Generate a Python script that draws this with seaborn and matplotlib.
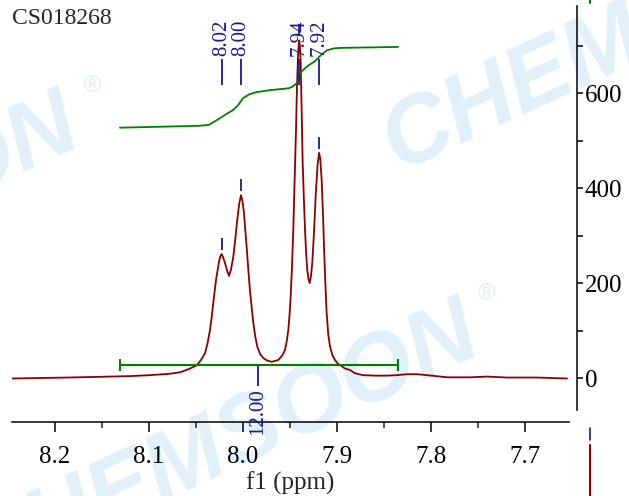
import matplotlib
matplotlib.use("Agg")
import numpy as np
import pandas as pd
import matplotlib.pyplot as plt
from matplotlib.lines import Line2D
from matplotlib.ticker import FixedLocator, MultipleLocator, FormatStrFormatter
import seaborn as sns

# spectrum (ppm, intensity)
ppm = [8.2457, 8.2160, 8.1872, 8.1628, 8.1415, 8.1202, 8.0989, 8.0777, 8.0670,
       8.0574, 8.0489, 8.0447, 8.0404, 8.0378, 8.0351, 8.0333, 8.0316, 8.0301,
       8.0287, 8.0269, 8.0252, 8.0239, 8.0227, 8.0213, 8.0191, 8.0170, 8.0149,
       8.0128, 8.0103, 8.0082, 8.0061, 8.0039, 8.0021, 8.0005, 7.9989, 7.9976,
       7.9961, 7.9944, 7.9926, 7.9907, 7.9890, 7.9869, 7.9848, 7.9819, 7.9784,
       7.9745, 7.9695, 7.9624, 7.9606, 7.9580, 7.9553, 7.9534, 7.9518, 7.9505,
       7.9493, 7.9479, 7.9465, 7.9450, 7.9436, 7.9426, 7.9415, 7.9404, 7.9395,
       7.9386, 7.9376, 7.9365, 7.9351, 7.9340, 7.9328, 7.9316, 7.9303, 7.9290,
       7.9277, 7.9263, 7.9245, 7.9227, 7.9207, 7.9191, 7.9178, 7.9163, 7.9149,
       7.9138, 7.9124, 7.9110, 7.9093, 7.9074, 7.9048, 7.9021, 7.8989, 7.8950,
       7.8915, 7.8862, 7.8809, 7.8723, 7.8596, 7.8468, 7.8362, 7.8255, 7.8149,
       7.8043, 7.7830, 7.7585, 7.7404, 7.7191, 7.6872, 7.6553]
intensity = [-1, 0, 1, 2, 3, 4, 6, 9, 12,
             19, 27, 38, 52, 72, 101, 128, 158, 183,
             206, 228, 248, 257, 261, 255, 242, 227, 215,
             228, 255, 292, 333, 368, 385, 372, 347, 313,
             276, 230, 185, 148, 116, 87, 66, 51, 42,
             37, 34, 38, 42, 48, 59, 78, 101, 132,
             171, 232, 312, 420, 522, 610, 676, 711, 700,
             663, 565, 453, 370, 312, 262, 227, 208, 200,
             214, 242, 305, 382, 448, 474, 462, 417, 345,
             276, 200, 137, 92, 66, 48, 38, 30, 25,
             20, 17, 10, 6, 5, 5, 6, 8, 8,
             6, 1.5, 1.5, 3, 1, 1, -1]

# integral curve
integral_ppm = [8.1309, 8.0883, 8.0457, 8.0362, 8.0277, 8.0191, 8.0106, 8.0053,
                8.0000, 7.9936, 7.9851, 7.9713, 7.9511, 7.9468, 7.9426, 7.9404,
                7.9383, 7.9340, 7.9298, 7.9234, 7.9170, 7.9106, 7.9032, 7.8957,
                7.8351]
integral_val = [527, 529, 531, 533, 543, 554, 564, 574,
                589, 597, 602, 606, 610, 614, 621, 632,
                644, 652, 659, 667, 680, 690, 694, 695,
                697]

peak_ppm = [8.0227, 8.0021, 7.9404, 7.9191]
peak_height = [261, 385, 711, 474]
peak_labels = ["8.02", "8.00", "7.94", "7.92"]

integral_range = [8.131, 7.835]
integral_level = 27
integral_label = "12.00"
integral_label_ppm = 7.984

x_ticks = [8.2, 8.1, 8.0, 7.9, 7.8, 7.7]
y_ticks = [0, 200, 400, 600]
y_minor = [100, 300, 500, 700]

red = "#8b0000"
green = "#008000"
navy = "#1a1a8e"
wm = "#e2f0fa"

sns.set_style("ticks")
plt.rcParams["font.family"] = ["Liberation Serif", "DejaVu Serif"]

fig = plt.figure(figsize=(6.29, 4.96), dpi=100)
ax = fig.add_axes([12 / 629, 74 / 496, 557 / 629, 422 / 496])
ax.set_zorder(1)
ax.patch.set_visible(False)

# watermark
wm_kw = dict(fontsize=68, fontweight="bold", style="italic", color=wm,
             family="Liberation Sans", rotation=25, rotation_mode="anchor",
             va="baseline", zorder=0)
fig.text(484 / 629, 1 - 350 / 496, "CHEMSOON", ha="right", **wm_kw)
fig.text(398 / 629, 1 - 171 / 496, "CHEMSOON", ha="left", **wm_kw)
fig.text(84 / 629, 1 - 142 / 496, "CHEMSOON", ha="right", **wm_kw)
fig.text(478 / 629, 1 - 300 / 496, "®", fontsize=17, color=wm, family="Liberation Sans", zorder=0)
fig.text(84 / 629, 1 - 92 / 496, "®", fontsize=17, color=wm, family="Liberation Sans", zorder=0)

spec = pd.DataFrame({"ppm": ppm, "intensity": intensity})
integ = pd.DataFrame({"ppm": integral_ppm, "value": integral_val})
sns.lineplot(data=spec, x="ppm", y="intensity", color=red, lw=1.3, ax=ax)
sns.lineplot(data=integ, x="ppm", y="value", color=green, lw=1.3, ax=ax)

# integral bar
ax.hlines(integral_level, integral_range[1], integral_range[0], color=green, lw=1.5)
ax.vlines(integral_range, integral_level - 12, integral_level + 12, color=green, lw=1.5)
ax.vlines(integral_label_ppm, integral_level - 44, integral_level - 2, color=navy, lw=1.3)
ax.text(integral_label_ppm, integral_level - 48, integral_label, rotation=90,
        ha="center", va="top", fontsize=15, color=navy, clip_on=False)

# peak picks
ph = np.array(peak_height)
ax.vlines(peak_ppm, ph + 8, ph + 34, color=navy, lw=1.3)
ax.vlines(peak_ppm, 617, 671, color=navy, lw=1.3)
for p, lab in zip(peak_ppm, peak_labels):
    ax.text(p, 678, lab, rotation=90, ha="center", va="bottom",
            fontsize=15, color=navy)

ax.set_xlim(8.2457, 7.6532)
ax.set_ylim(-92.6, 795.8)

for s in ["top", "left"]:
    ax.spines[s].set_visible(False)
ax.spines["right"].set_position(("outward", 6))
ax.spines["right"].set_bounds(-67, 783)
for s in ["right", "bottom"]:
    ax.spines[s].set_linewidth(1.1)
    ax.spines[s].set_color("black")
ax.yaxis.tick_right()

ax.xaxis.set_major_locator(FixedLocator(x_ticks))
ax.xaxis.set_minor_locator(MultipleLocator(0.05))
ax.xaxis.set_major_formatter(FormatStrFormatter("%.1f"))
ax.yaxis.set_major_locator(FixedLocator(y_ticks))
ax.yaxis.set_minor_locator(FixedLocator(y_minor))

ax.tick_params(axis="x", which="major", direction="out", length=7, width=1.1,
               pad=10, labelsize=18, colors="black")
ax.tick_params(axis="x", which="minor", direction="out", length=4, width=1.1)
ax.tick_params(axis="y", which="both", direction="out", length=4.5, width=1.1,
               pad=1, labelsize=18, colors="black")

ax.set_xlabel("f1 (ppm)", fontsize=18, labelpad=3)
ax.set_ylabel("")

fig.text(12 / 629, 1 - 8 / 496, "CS018268", fontsize=17, ha="left", va="top")

# small marks at the right edge
fig.add_artist(Line2D([590 / 629] * 2, [1 - 428 / 496, 1 - 440 / 496], color=navy, lw=1.2))
fig.add_artist(Line2D([590 / 629] * 2, [1 - 445 / 496, 0], color=red, lw=1.5))
fig.add_artist(Line2D([590 / 629] * 2, [1, 1 - 3 / 496], color=green, lw=1.5))

fig.savefig("out.png", dpi=100)
